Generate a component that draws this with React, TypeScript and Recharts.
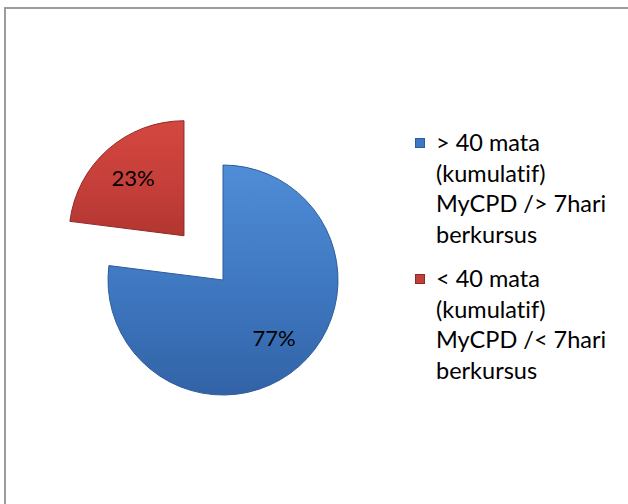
import { PieChart, Pie, Cell, Legend } from 'recharts'

// values
const categories = [
  '> 40 mata\n(kumulatif)\nMyCPD /> 7hari\nberkursus',
  '< 40 mata\n(kumulatif)\nMyCPD /< 7hari\nberkursus',
]
const shares = [77, 23]
const fills = ['url(#gradBlue)', 'url(#gradRed)']
const strokes = ['#2d5d9a', '#8f2b27']
const swatches = ['#3c78c3', '#c0403b']
const exploded = [false, true]

const data = categories.map((name, i) => ({ name, value: shares[i] }))

const CX = 223
const CY = 280
const R = 115
const EXPLODE = 59
const RAD = Math.PI / 180
const FONT = 'Lato, "Open Sans", sans-serif'

// mid angle of the exploded slice, same convention recharts uses (start 90, clockwise)
const total = shares.reduce((a, b) => a + b, 0)
const explodedIndex = exploded.indexOf(true)
const before = shares.slice(0, explodedIndex).reduce((a, b) => a + b, 0)
const midAngle = 90 - ((before + shares[explodedIndex] / 2) / total) * 360
const ecx = CX + EXPLODE * Math.cos(-midAngle * RAD)
const ecy = CY + EXPLODE * Math.sin(-midAngle * RAD)

const makeLabel = (show: boolean) => (props: any) => {
  const { cx, cy, midAngle, outerRadius, percent, index } = props
  if (exploded[index] !== show) return null
  const r = outerRadius * 0.67
  const x = cx + r * Math.cos(-midAngle * RAD)
  const y = cy + r * Math.sin(-midAngle * RAD)
  return (
    <text x={x} y={y} textAnchor="middle" dominantBaseline="central"
      fill="#000" fontSize={22} fontFamily={FONT}>
      {`${Math.round(percent * 100)}%`}
    </text>
  )
}

const renderLegend = () => (
  <div style={{
    fontFamily: FONT, fontSize: 23.5, lineHeight: '30.5px', color: '#000',
    fontVariantLigatures: 'none', textAlign: 'left',
  }}>
    {categories.map((name, i) => (
      <div key={i} style={{ display: 'flex', marginBottom: 14 }}>
        <span style={{
          width: 10, height: 10, marginTop: 11, marginRight: 11, flex: 'none',
          background: swatches[i], border: `1px solid ${strokes[i]}`, boxSizing: 'border-box',
        }} />
        <span style={{ whiteSpace: 'pre-line' }}>{name}</span>
      </div>
    ))}
  </div>
)

export default function App() {
  return (
    <div style={{ position: 'absolute', left: 0, top: 0, width: 628, height: 504, overflow: 'hidden', background: '#fff' }}>
      <svg width={0} height={0} style={{ position: 'absolute' }}>
        <defs>
          <linearGradient id="gradBlue" x1="0" y1="0" x2="0" y2="1">
            <stop offset="0%" stopColor="#4f8dd6" />
            <stop offset="55%" stopColor="#3e77c0" />
            <stop offset="100%" stopColor="#3263a6" />
          </linearGradient>
          <linearGradient id="gradRed" x1="0" y1="0" x2="0" y2="1">
            <stop offset="0%" stopColor="#d4473f" />
            <stop offset="60%" stopColor="#c43e39" />
            <stop offset="100%" stopColor="#b23631" />
          </linearGradient>
        </defs>
      </svg>
      <div style={{
        position: 'absolute', left: 4, top: 7, width: 660, height: 540,
        border: '2px solid #9c9c9c',
      }} />
      <div style={{ position: 'absolute', left: 0, top: 0 }}>
        <PieChart width={628} height={504} margin={{ top: 0, right: 0, bottom: 0, left: 0 }}>
          <Pie data={data} dataKey="value" nameKey="name" cx={CX} cy={CY}
            outerRadius={R} startAngle={90} endAngle={-270}
            label={makeLabel(false)} labelLine={false} legendType="none"
            isAnimationActive={false}>
            {data.map((d, i) => (
              <Cell key={d.name} fill={exploded[i] ? 'none' : fills[i]}
                stroke={exploded[i] ? 'none' : strokes[i]} strokeWidth={1} />
            ))}
          </Pie>
          <Pie data={data} dataKey="value" nameKey="name" cx={ecx} cy={ecy}
            outerRadius={R} startAngle={90} endAngle={-270}
            label={makeLabel(true)} labelLine={false} legendType="none"
            isAnimationActive={false}>
            {data.map((d, i) => (
              <Cell key={d.name} fill={exploded[i] ? fills[i] : 'none'}
                stroke={exploded[i] ? strokes[i] : 'none'} strokeWidth={1} />
            ))}
          </Pie>
          <Legend content={renderLegend} layout="vertical" verticalAlign="top" align="right"
            wrapperStyle={{ left: 415, top: 127, width: 210, right: 'auto' }} />
        </PieChart>
      </div>
    </div>
  )
}
